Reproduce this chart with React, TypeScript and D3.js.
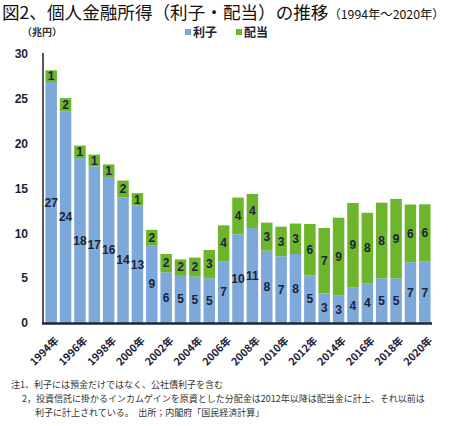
import React from "react";
import * as d3 from "d3";

const years = d3.range(1994, 2021).map(String);
const interest = [26.9, 23.6, 18.4, 17.45, 16.3, 14.0, 13.1, 8.7, 5.66, 5.36, 5.17, 5.0, 6.9, 9.9, 10.6, 8.07, 7.45, 7.7, 5.3, 3.3, 3.05, 3.95, 4.4, 4.98, 4.98, 6.77, 6.85];
const dividend = [1.3, 1.5, 1.4, 1.35, 1.4, 1.9, 1.4, 1.7, 2.04, 1.74, 2.13, 3.15, 4.0, 4.1, 3.8, 3.13, 3.3, 3.4, 5.75, 7.3, 8.7, 9.45, 7.9, 8.45, 8.87, 6.45, 6.4];
const yTicks = [0, 5, 10, 15, 20, 25, 30];
const xTickYears = years.filter((_, i) => i % 2 === 0);
const seriesNames = ["利子", "配当"];

const W = 449;
const H = 426;
const BLUE = "#7DA9DA";
const GREEN = "#6CB52D";
const DARK = "#1c2338";
const SANS = "'Liberation Sans', Arial, 'Noto Sans CJK JP', sans-serif";
const JP = "'Noto Sans CJK JP', sans-serif";

export default function App() {
  const x = d3.scaleBand<string>().domain(years).range([44, 432]).paddingInner(0.2).paddingOuter(0.1);
  const y = d3.scaleLinear().domain([0, 30]).range([323, 54.2]);
  const bw = x.bandwidth();

  return (
    <div style={{ position: "absolute", left: 0, top: 0, width: W, height: H, background: "#fff" }}>
      <svg width={W} height={H} style={{ display: "block" }}>
        <rect width={W} height={H} fill="#fff" />
        {/* title */}
        <text x={2} y={19} fontFamily={JP} fontSize={17.6} fill="#111">
          図2、個人金融所得（利子・配当）の推移
          <tspan fontSize={12.3}>（1994年～2020年）</tspan>
        </text>
        {/* unit */}
        <text x={22} y={36} fontFamily={JP} fontWeight={700} fontSize={10} fill="#333">（兆円）</text>
        {/* legend */}
        <g fontFamily={JP} fontWeight={700} fontSize={12} fill={DARK}>
          <rect x={185} y={29} width={6} height={6} fill={BLUE} />
          <text x={193} y={36.5}>{seriesNames[0]}</text>
          <rect x={236} y={29} width={6} height={6} fill={GREEN} />
          <text x={244} y={36.5}>{seriesNames[1]}</text>
        </g>
        {/* y ticks */}
        <g fontFamily={SANS} fontWeight={700} fontSize={12} fill={DARK} textAnchor="end">
          {yTicks.map((t) => (
            <text key={t} x={28} y={y(t)} dy="0.35em">{t}</text>
          ))}
        </g>
        {/* bars */}
        {years.map((yr, i) => {
          const x0 = x(yr)!;
          const a = interest[i];
          const b = dividend[i];
          return (
            <g key={yr}>
              <rect x={x0} y={y(a)} width={bw} height={y(0) - y(a)} fill={BLUE} />
              <rect x={x0} y={y(a + b)} width={bw} height={y(a) - y(a + b)} fill={GREEN} />
            </g>
          );
        })}
        {/* bar labels */}
        <g fontFamily={SANS} fontWeight={700} fontSize={12} fill={DARK} textAnchor="middle">
          {years.map((yr, i) => {
            const cx = x(yr)! + bw / 2;
            const a = interest[i];
            const b = dividend[i];
            return (
              <g key={yr}>
                <text x={cx} y={(y(0) + y(a)) / 2} dy="0.35em">{Math.round(a)}</text>
                <text x={cx} y={(y(a) + y(a + b)) / 2} dy="0.35em">{Math.round(b)}</text>
              </g>
            );
          })}
        </g>
        {/* axes */}
        <line x1={43} x2={43} y1={53} y2={324} stroke="#222" strokeWidth={1.5} />
        <line x1={42} x2={432} y1={323.5} y2={323.5} stroke="#1f2638" strokeWidth={2.5} />
        {/* x labels */}
        <g fontFamily={JP} fontWeight={700} fontSize={10.5} fill={DARK} textAnchor="end">
          {xTickYears.map((yr) => {
            const cx = x(yr)! + bw / 2;
            return (
              <text key={yr} transform={`translate(${cx + 3},${336}) rotate(-45)`} dy="0.7em">
                {yr}年
              </text>
            );
          })}
        </g>
        {/* footnotes */}
        <g fontFamily={JP} fontSize={9} fill="#333">
          <text x={11} y={388}>注1、利子には預金だけではなく、公社債利子を含む</text>
          <text x={22} y={402}>2，投資信託に掛かるインカムゲインを原資とした分配金は2012年以降は配当金に計上、それ以前は</text>
          <text x={35} y={416}>利子に計上されている。　出所；内閣府「国民経済計算」</text>
        </g>
      </svg>
    </div>
  );
}
